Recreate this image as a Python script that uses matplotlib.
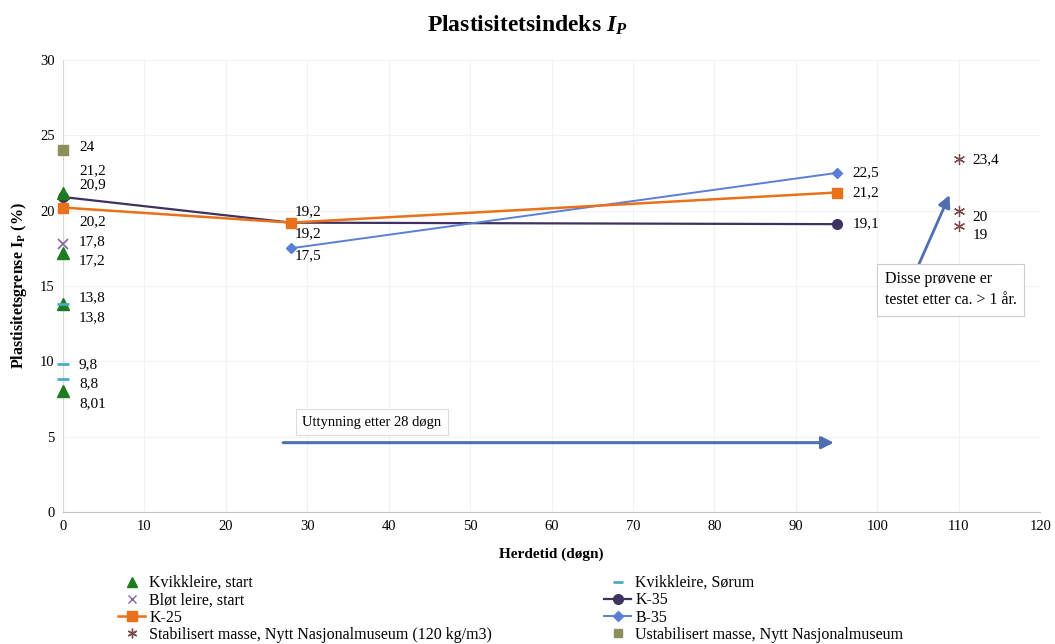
import matplotlib
matplotlib.use('Agg')
import matplotlib.pyplot as plt
from matplotlib.lines import Line2D

plt.rcParams['font.family'] = ['Liberation Serif', 'DejaVu Serif']
plt.rcParams['mathtext.fontset'] = 'custom'
plt.rcParams['mathtext.rm'] = 'Liberation Serif:bold'
plt.rcParams['mathtext.it'] = 'Liberation Serif:bold:italic'
plt.rcParams['mathtext.bf'] = 'Liberation Serif:bold'

# ---------------- data ----------------
kvikk_start_x = [0, 0, 0, 0]
kvikk_start_y = [21.2, 17.2, 13.8, 8.01]
sorum_x = [0, 0, 0]
sorum_y = [13.8, 9.8, 8.8]
blot_x = [0]
blot_y = [17.8]
k25_x = [0, 28, 95]
k25_y = [20.2, 19.2, 21.2]
k35_x = [0, 28, 95]
k35_y = [20.9, 19.2, 19.1]
b35_x = [28, 95]
b35_y = [17.5, 22.5]
stab_x = [110, 110, 110]
stab_y = [23.4, 20, 19]
ustab_x = [0]
ustab_y = [24]

# data labels: value and vertical offset (px) from its point
lab0_vals = [24, 21.2, 20.9, 20.2, 17.8, 17.2, 13.8, 13.8, 9.8, 8.8, 8.01]
lab0_dy = [3, 22, 12, -14, 2, -8, 6, -14, 0, -4, -12]
lab28_vals = [19.2, 19.2, 17.5]
lab28_dy = [11, -11, -7]
lab95_vals = [22.5, 21.2, 19.1]
lab95_dy = [0, 0, 0]
lab110_vals = [23.4, 20, 19]
lab110_dy = [0, -7, -10]

def fmt(v):
    return ('%g' % v).replace('.', ',')

# ---------------- figure ----------------
fig = plt.figure(figsize=(10.55, 6.44), dpi=100)
ax = fig.add_axes([0.0597, 0.205, 0.9263, 0.702])

c_green = '#1e7b1e'
c_sorum = '#4bacc6'
c_blot = '#8064a2'
c_k25 = '#e8711a'
c_k35 = '#3f3160'
c_b35 = '#5b7fd6'
c_stab = '#7a4a4a'
c_ustab = '#8c8f5c'

ax.plot(k35_x, k35_y, color=c_k35, marker='o', ms=7, lw=1.6, zorder=3, clip_on=False)
ax.plot(k25_x, k25_y, color=c_k25, marker='s', ms=7, lw=1.8, zorder=4, clip_on=False)
ax.plot(b35_x, b35_y, color=c_b35, marker='D', ms=5, lw=1.4, zorder=3, clip_on=False)
ax.plot(kvikk_start_x, kvikk_start_y, ls='none', color=c_green, marker='^', ms=8, zorder=5,
        clip_on=False)
ax.plot(sorum_x, sorum_y, ls='none', color=c_sorum, marker='_', ms=8, mew=2, zorder=6,
        clip_on=False)
ax.plot(blot_x, blot_y, ls='none', color=c_blot, marker='x', ms=7, mew=1.2, zorder=5,
        clip_on=False)
ax.plot(stab_x, stab_y, ls='none', color=c_stab, marker=(6, 2, 0), ms=8, mew=0.9, zorder=5,
        clip_on=False)
ax.plot(ustab_x, ustab_y, ls='none', color=c_ustab, marker='s', ms=7, zorder=5, clip_on=False)

lab_fs = 11
for v, dy in zip(lab0_vals, lab0_dy):
    ax.annotate(fmt(v), (0, v), xytext=(11.5, dy * 0.72), textcoords='offset points',
                va='center', ha='left', fontsize=lab_fs)
for v, dy in zip(lab28_vals, lab28_dy):
    ax.annotate(fmt(v), (28, v), xytext=(2.5, dy * 0.72), textcoords='offset points',
                va='center', ha='left', fontsize=lab_fs)
for v, dy in zip(lab95_vals, lab95_dy):
    ax.annotate(fmt(v), (95, v), xytext=(11.5, dy * 0.72), textcoords='offset points',
                va='center', ha='left', fontsize=lab_fs)
for v, dy in zip(lab110_vals, lab110_dy):
    ax.annotate(fmt(v), (110, v), xytext=(10, dy * 0.72), textcoords='offset points',
                va='center', ha='left', fontsize=lab_fs)

# annotations
arrow_col = '#4f6fb0'
ax.annotate('', xy=(95, 4.6), xytext=(26.7, 4.6),
            arrowprops=dict(arrowstyle='-|>', color=arrow_col, lw=2.2, mutation_scale=18))
ax.text(29.4, 5.95, 'Uttynning etter 28 døgn', fontsize=10.5, va='center', ha='left',
        bbox=dict(boxstyle='square,pad=0.45', fc='white', ec='#dddddd', lw=0.8))
ax.annotate('', xy=(109, 21.2), xytext=(102.2, 12.9),
            arrowprops=dict(arrowstyle='-|>', color=arrow_col, lw=2.0, mutation_scale=18))
ax.text(100.9, 14.75, 'Disse prøvene er\ntestet etter ca. > 1 år.', fontsize=11.5,
        va='center', ha='left', linespacing=1.45,
        bbox=dict(boxstyle='square,pad=0.45', fc='white', ec='#cccccc', lw=0.8))

# axes styling
ax.set_xlim(0, 120)
ax.set_ylim(0, 30)
ax.set_xticks(range(0, 121, 10))
ax.set_yticks(range(0, 31, 5))
ax.tick_params(axis='both', labelsize=10.5, length=0, pad=6)
ax.grid(True, color='#f2f2f2', lw=0.8)
ax.set_axisbelow(True)
for s in ['top', 'right']:
    ax.spines[s].set_visible(False)
ax.spines['left'].set_color('#d8d8d8')
ax.spines['bottom'].set_color('#c4c4c4')

ax.set_xlabel('Herdetid (døgn)', fontsize=11, fontweight='bold', labelpad=10)
ax.set_ylabel(r'Plastisitetsgrense $\mathrm{I}_{\mathrm{P}}$ (%)', fontsize=11.5,
              fontweight='bold', labelpad=8)
fig.suptitle(r'Plastisitetsindeks $I_P$', fontsize=17, fontweight='bold', y=0.978)

# legend
h_kvikk = Line2D([], [], ls='none', color=c_green, marker='^', ms=7)
h_sorum = Line2D([], [], ls='none', color=c_sorum, marker='_', ms=7, mew=2)
h_blot = Line2D([], [], ls='none', color=c_blot, marker='x', ms=6)
h_k35 = Line2D([], [], color=c_k35, marker='o', ms=7, lw=1.6)
h_k25 = Line2D([], [], color=c_k25, marker='s', ms=7, lw=1.8)
h_b35 = Line2D([], [], color=c_b35, marker='D', ms=5, lw=1.4)
h_stab = Line2D([], [], ls='none', color=c_stab, marker=(6, 2, 0), ms=7)
h_ustab = Line2D([], [], ls='none', color=c_ustab, marker='s', ms=6)
handles = [h_kvikk, h_blot, h_k25, h_stab, h_sorum, h_k35, h_b35, h_ustab]
labels = ['Kvikkleire, start', 'Bløt leire, start', 'K-25',
          'Stabilisert masse, Nytt Nasjonalmuseum (120 kg/m3)',
          'Kvikkleire, Sørum', 'K-35', 'B-35', 'Ustabilisert masse, Nytt Nasjonalmuseum']
fig.legend(handles, labels, ncol=2, loc='upper left', bbox_to_anchor=(0.112, 0.107),
           frameon=False, fontsize=11.5, labelspacing=0.08, handlelength=1.7,
           handletextpad=0.25, columnspacing=7.0, borderaxespad=0, borderpad=0)

fig.savefig('out.png', dpi=100)
